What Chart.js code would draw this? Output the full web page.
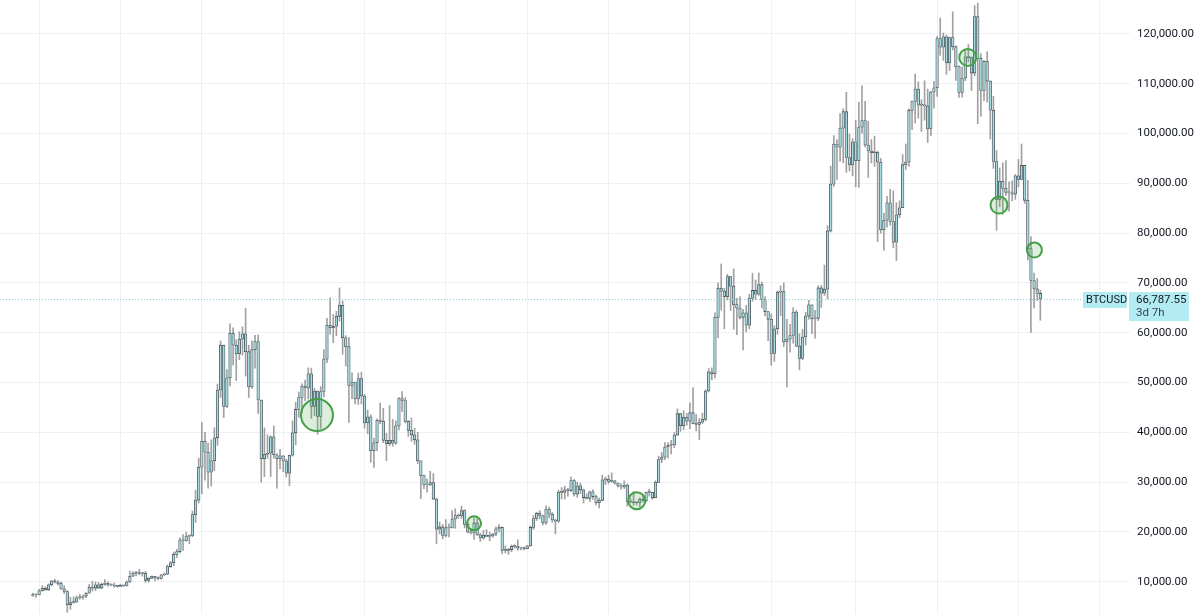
<!DOCTYPE html>
<html>
<head>
<meta charset="utf-8">
<script src="https://cdn.jsdelivr.net/npm/chart.js@4.4.1/dist/chart.umd.min.js"></script>
<style>
  html, body { margin: 0; padding: 0; background: #fff; }
  #wrap { width: 1200px; height: 614px; position: relative; }
</style>
</head>
<body>
<div id="wrap"><canvas id="myChart"></canvas></div>
<script>
// BTCUSD weekly candles, first week starts Mon 2019-12-23
// prices in thousands of USD, open of each week = previous close
const firstWeek = '2019-12-23';
const firstOpen = 7.15;

const weeklyClose = [
  7.39, 7.35, 8.18, 8.68, 8.37, 9.38, 10.17, 9.92, 9.66, 8.54,
  8.03, 5.39, 5.83, 5.88, 6.77, 6.90, 7.12, 7.70, 8.90, 8.72,
  9.38, 8.72, 9.45, 9.66, 9.34, 9.30, 9.13, 9.07, 9.25, 9.16,
  9.93, 11.10, 11.68, 11.85, 11.65, 11.70, 10.28, 10.68, 11.08, 10.77,
  10.66, 11.38, 11.50, 13.04, 13.80, 15.48, 16.05, 18.40, 18.18, 19.17,
  19.28, 23.47, 26.40, 33.00, 38.20, 36.00, 32.00, 34.30, 38.90, 48.50,
  57.50, 45.20, 50.95, 59.90, 57.50, 55.80, 58.70, 59.80, 56.20, 49.10,
  56.60, 58.25, 46.50, 34.70, 35.60, 35.80, 39.10, 35.50, 34.70, 35.30,
  34.25, 31.80, 35.40, 39.90, 44.60, 47.00, 49.30, 48.90, 51.75, 45.20,
  48.30, 43.20, 48.20, 54.70, 61.50, 61.00, 61.30, 63.30, 65.50, 59.00,
  57.20, 49.40, 50.10, 46.70, 50.80, 47.30, 41.90, 43.10, 36.30, 37.90,
  42.40, 42.20, 38.40, 37.70, 38.40, 37.80, 41.30, 46.80, 46.40, 42.20,
  40.40, 39.50, 38.50, 34.30, 31.30, 29.45, 29.45, 29.90, 26.60, 20.55,
  21.00, 19.30, 20.85, 20.80, 22.60, 23.30, 23.20, 24.30, 21.50, 20.00,
  19.80, 21.80, 19.40, 18.80, 19.30, 19.10, 19.20, 19.57, 20.63, 20.90,
  16.30, 16.30, 16.45, 17.10, 17.10, 16.75, 16.85, 16.60, 17.20, 20.90,
  22.70, 23.75, 23.30, 21.80, 24.60, 23.55, 22.40, 22.15, 28.00, 27.95,
  28.45, 28.30, 30.30, 27.60, 29.25, 28.45, 26.90, 26.75, 28.05, 27.10,
  25.85, 26.35, 30.45, 30.60, 30.15, 30.25, 29.80, 29.25, 29.05, 29.40,
  26.10, 26.00, 25.85, 25.85, 26.55, 26.25, 27.95, 27.95, 26.85, 29.95,
  34.55, 35.00, 37.05, 37.40, 37.45, 39.45, 43.75, 41.35, 43.00, 42.25,
  43.95, 41.75, 41.60, 42.05, 42.60, 48.30, 52.15, 51.75, 63.10, 68.95,
  68.35, 67.25, 71.30, 69.35, 65.65, 64.95, 63.10, 64.00, 61.50, 66.95,
  68.50, 67.75, 69.65, 66.65, 64.25, 62.70, 55.85, 60.80, 68.15, 68.25,
  58.15, 58.70, 59.45, 64.15, 57.30, 54.85, 59.15, 63.35, 65.60, 62.80,
  62.90, 69.00, 67.95, 68.75, 80.45, 89.85, 97.90, 97.25, 101.10, 104.40,
  95.20, 93.70, 98.35, 94.55, 101.30, 102.60, 97.70, 96.50, 96.15, 96.25,
  94.25, 80.70, 82.60, 86.10, 82.35, 78.20, 83.70, 85.10, 93.75, 94.30,
  104.65, 106.45, 108.95, 105.70, 105.70, 105.55, 100.95, 108.35, 109.20, 119.10,
  117.35, 119.45, 114.20, 119.30, 117.45, 113.45, 108.25, 111.15, 115.40, 115.25,
  112.15, 123.50, 115.10, 108.65, 114.50, 110.55, 104.70, 94.40, 86.80, 90.40,
  89.00, 88.20, 88.10, 87.85, 91.50, 90.80, 93.60, 86.60, 76.90, 70.50,
  68.80, 67.90, 66.79
];

const weeklyHigh = [
  7.70, 7.55, 8.46, 9.19, 8.98, 9.57, 10.20, 10.50, 10.25, 9.96,
  9.19, 8.18, 6.90, 6.99, 7.20, 7.46, 7.30, 7.76, 9.46, 10.07,
  9.95, 9.85, 9.74, 10.43, 9.99, 9.59, 9.76, 9.30, 9.47, 9.29,
  10.18, 12.12, 12.02, 12.10, 12.48, 11.80, 12.08, 10.86, 11.18, 11.05,
  10.96, 11.50, 11.72, 13.35, 14.10, 15.96, 16.48, 18.80, 19.45, 19.90,
  19.40, 24.20, 28.40, 34.80, 41.95, 40.00, 37.85, 38.50, 40.90, 49.70,
  58.35, 57.50, 52.60, 61.80, 61.00, 58.60, 60.20, 61.20, 64.90, 57.50,
  58.40, 59.50, 59.60, 46.00, 40.90, 39.50, 39.30, 41.30, 35.70, 36.60,
  35.10, 34.60, 35.40, 42.30, 46.00, 48.10, 49.75, 50.50, 52.95, 52.90,
  48.85, 48.00, 49.20, 56.60, 62.90, 67.00, 63.70, 64.30, 69.00, 66.40,
  59.40, 59.10, 51.95, 50.10, 51.90, 52.10, 47.60, 44.50, 43.50, 38.80,
  42.70, 45.85, 44.80, 39.80, 45.40, 42.60, 42.30, 47.00, 48.20, 47.00,
  42.40, 42.90, 40.80, 40.00, 34.30, 31.40, 30.60, 32.20, 31.70, 26.80,
  22.00, 21.50, 22.50, 21.60, 24.30, 24.65, 23.60, 25.20, 24.45, 21.90,
  20.60, 22.80, 22.65, 19.70, 20.30, 20.45, 19.95, 19.70, 21.00, 21.45,
  21.00, 17.20, 16.70, 17.40, 17.40, 18.40, 16.90, 16.95, 17.30, 21.20,
  23.30, 23.95, 24.25, 23.20, 25.25, 25.00, 23.90, 22.60, 28.40, 28.90,
  29.20, 28.75, 31.00, 30.50, 30.00, 29.80, 28.60, 27.65, 28.20, 28.45,
  27.40, 26.80, 31.40, 31.00, 31.40, 31.85, 30.35, 29.60, 29.70, 30.25,
  29.65, 26.80, 28.15, 26.10, 26.85, 27.45, 28.00, 28.60, 27.95, 30.30,
  35.20, 35.95, 37.95, 37.95, 38.40, 39.95, 44.70, 43.45, 44.35, 43.80,
  45.90, 49.00, 43.60, 42.80, 43.85, 48.55, 52.80, 52.95, 64.00, 70.00,
  73.80, 68.90, 71.75, 71.30, 72.80, 66.90, 67.20, 64.70, 65.50, 67.70,
  71.95, 70.60, 72.00, 70.20, 67.20, 63.80, 63.80, 61.40, 68.40, 69.40,
  70.00, 62.70, 61.70, 65.00, 64.50, 59.80, 60.65, 64.10, 66.50, 65.60,
  64.50, 69.40, 69.50, 73.60, 81.50, 93.45, 99.60, 98.80, 104.00, 105.00,
  108.30, 99.90, 99.00, 102.70, 106.30, 109.60, 106.50, 102.50, 98.80, 99.50,
  96.50, 95.00, 84.00, 87.40, 88.80, 88.50, 86.10, 86.50, 95.80, 97.90,
  104.95, 106.60, 111.95, 110.40, 106.80, 110.60, 108.95, 108.50, 110.50, 119.50,
  123.20, 120.20, 119.80, 119.40, 124.45, 117.60, 113.60, 113.40, 116.80, 117.90,
  115.40, 125.70, 126.20, 116.00, 114.70, 116.40, 110.60, 107.50, 96.60, 93.10,
  94.10, 94.60, 90.30, 90.50, 91.80, 94.80, 97.90, 93.40, 90.60, 79.30,
  72.00, 70.90, 68.50
];

const weeklyLow = [
  7.05, 6.85, 7.34, 8.10, 8.25, 8.26, 9.14, 9.73, 9.30, 8.45,
  7.63, 3.85, 4.44, 5.68, 5.86, 6.50, 6.46, 6.80, 7.68, 8.12,
  8.20, 8.64, 8.63, 9.27, 9.10, 9.19, 8.85, 8.90, 9.05, 9.07,
  9.15, 9.93, 11.00, 11.15, 11.37, 11.11, 9.90, 9.89, 10.65, 10.14,
  10.38, 10.53, 11.20, 11.40, 12.90, 13.20, 14.85, 15.80, 16.30, 18.30,
  17.60, 19.05, 21.90, 25.80, 27.70, 30.40, 28.80, 29.20, 32.30, 37.40,
  47.00, 43.00, 45.00, 49.30, 53.50, 50.40, 54.60, 55.50, 51.30, 47.00,
  48.80, 52.90, 43.80, 30.00, 31.10, 34.80, 31.10, 34.80, 28.80, 32.70,
  32.10, 31.00, 29.30, 35.20, 37.50, 43.00, 43.90, 46.35, 46.70, 42.80,
  43.35, 39.60, 40.80, 47.10, 54.00, 59.70, 58.00, 59.40, 62.30, 55.70,
  53.30, 42.00, 46.75, 45.70, 45.60, 45.70, 40.80, 39.70, 34.00, 32.95,
  36.30, 41.70, 37.90, 34.30, 37.30, 37.20, 37.60, 40.50, 44.20, 41.90,
  39.20, 38.20, 37.60, 33.70, 26.70, 28.70, 28.00, 29.30, 26.50, 17.60,
  19.60, 18.60, 19.00, 19.00, 20.80, 20.70, 22.70, 22.70, 20.80, 19.80,
  19.60, 18.50, 19.30, 18.10, 18.50, 19.00, 18.20, 18.90, 19.25, 20.00,
  15.60, 15.80, 15.50, 16.00, 16.70, 16.30, 16.40, 16.40, 16.60, 17.10,
  20.50, 22.30, 22.60, 21.40, 21.50, 22.80, 21.95, 19.60, 21.90, 26.60,
  26.60, 27.20, 28.20, 27.20, 26.95, 27.70, 25.80, 26.60, 26.10, 26.55,
  25.40, 24.80, 26.25, 29.50, 29.70, 29.95, 29.60, 29.00, 28.60, 28.70,
  25.15, 25.80, 25.35, 25.40, 24.90, 26.05, 26.00, 27.20, 26.55, 26.95,
  29.90, 33.90, 34.50, 34.80, 35.65, 36.90, 39.40, 40.20, 40.55, 41.45,
  40.75, 41.70, 40.30, 38.55, 41.80, 42.30, 48.10, 50.55, 50.90, 59.00,
  64.55, 60.80, 66.60, 64.50, 60.70, 59.60, 62.80, 56.55, 60.20, 60.80,
  66.30, 66.65, 67.50, 65.00, 63.40, 58.40, 53.50, 54.25, 59.70, 63.45,
  57.20, 49.10, 56.10, 57.90, 57.20, 52.55, 54.60, 57.50, 62.70, 59.80,
  58.90, 62.45, 65.10, 67.50, 66.80, 80.25, 89.40, 90.80, 94.40, 94.10,
  92.20, 92.50, 91.50, 89.30, 89.20, 100.10, 97.30, 91.20, 94.10, 93.40,
  78.30, 80.00, 76.60, 81.20, 81.60, 77.10, 74.50, 83.10, 85.10, 92.80,
  93.40, 100.80, 102.10, 103.10, 100.40, 102.70, 98.20, 99.60, 105.10, 107.45,
  115.70, 114.70, 111.90, 112.65, 116.80, 110.70, 107.25, 107.30, 110.60, 114.40,
  108.65, 111.60, 102.00, 103.50, 106.60, 106.30, 98.90, 93.00, 80.60, 85.30,
  83.80, 87.60, 84.40, 86.50, 86.80, 89.30, 90.90, 86.00, 74.60, 60.00,
  65.00, 66.50, 62.50
];

// green circle markers: week index, price, radius
const markWeek = [90.8, 141, 193, 298.8, 308.8, 320.1];
const markPrice = [43470, 21730, 26270, 115300, 85640, 76610];
const markSize = [16, 7, 8.5, 8.5, 8.5, 7.5];

// axis
const priceTicks = [10000, 20000, 30000, 40000, 50000, 60000, 70000, 80000, 90000, 100000, 110000, 120000];
const halfYears = ['2020-01-01', '2020-07-01', '2021-01-01', '2021-07-01', '2022-01-01', '2022-07-01',
  '2023-01-01', '2023-07-01', '2024-01-01', '2024-07-01', '2025-01-01', '2025-07-01', '2026-01-01', '2026-07-01'];

const symbol = 'BTCUSD';
const lastPrice = 66787.55;
const countdown = '3d 7h';

const WEEK = 7 * 24 * 3600 * 1000;
const t0 = Date.parse(firstWeek);

// first weekly bar at or after each half year start
const gridWeeks = halfYears.map(function (d) {
  return Math.ceil((Date.parse(d) - t0) / WEEK);
});

const bodies = [];
const wicks = [];
weeklyClose.forEach(function (c, i) {
  const o = i === 0 ? firstOpen : weeklyClose[i - 1];
  const hi = Math.max(weeklyHigh[i], o, c);
  const lo = Math.min(weeklyLow[i], o, c);
  bodies.push({ x: i, y: [o * 1000, c * 1000] });
  wicks.push({ x: i, y: [lo * 1000, hi * 1000] });
});

const marks = markWeek.map(function (w, i) {
  return { x: w, y: markPrice[i], r: markSize[i] };
});

function fmt(v) {
  return v.toLocaleString('en-US', { minimumFractionDigits: 2, maximumFractionDigits: 2 });
}

// dotted last price line + symbol / price tags
const priceTag = {
  id: 'priceTag',
  afterDraw: function (chart) {
    const ctx = chart.ctx;
    const area = chart.chartArea;
    const py = Math.round(chart.scales.y.getPixelForValue(lastPrice)) + 0.5;
    ctx.save();
    ctx.strokeStyle = '#7fd3de';
    ctx.lineWidth = 1;
    ctx.setLineDash([1, 2]);
    ctx.beginPath();
    ctx.moveTo(0, py);
    ctx.lineTo(area.right - 47, py);
    ctx.stroke();
    ctx.setLineDash([]);

    ctx.fillStyle = '#b2ebf2';
    ctx.fillRect(area.right - 47, py - 7.5, 44, 16);
    ctx.fillRect(area.right - 1, py - 7.5, 60, 29);

    ctx.fillStyle = '#131722';
    ctx.font = '11px Roboto';
    ctx.textBaseline = 'middle';
    ctx.textAlign = 'left';
    ctx.fillText(symbol, area.right - 44, py + 0.5);
    ctx.font = '11.5px Roboto';
    ctx.fillText(fmt(lastPrice), area.right + 6, py + 0.5);
    ctx.fillStyle = '#3a3f4b';
    ctx.fillText(countdown, area.right + 6, py + 13.5);
    ctx.restore();
  }
};

const ctx = document.getElementById('myChart').getContext('2d');

// eslint-disable-next-line
const chart = new Chart(ctx, {
  type: 'bar',
  data: {
    datasets: [
      {
        type: 'bubble',
        data: marks,
        backgroundColor: 'rgba(76, 175, 80, 0.2)',
        borderColor: '#43a047',
        borderWidth: 2,
        clip: false,
        order: 1,
      },
      {
        data: bodies,
        backgroundColor: '#a3dbe1',
        borderColor: '#4f5358',
        borderWidth: 0.8,
        borderSkipped: false,
        barThickness: 2.6,
        minBarLength: 1,
        grouped: false,
        order: 2,
      },
      {
        data: wicks,
        backgroundColor: 'rgba(130, 130, 130, 0.75)',
        barThickness: 1,
        grouped: false,
        order: 3,
      },
    ],
  },
  options: {
    responsive: true,
    maintainAspectRatio: false,
    animation: false,
    layout: { padding: 0, autoPadding: false },
    plugins: {
      legend: { display: false },
      tooltip: { enabled: false },
    },
    scales: {
      x: {
        type: 'linear',
        offset: false,
        min: -10.51,
        max: 350.66,
        afterBuildTicks: function (scale) {
          scale.ticks = gridWeeks.map(function (v) { return { value: v }; });
        },
        afterFit: function (scale) {
          scale.height = 0;
        },
        ticks: { display: false },
        grid: { color: '#eef0f3', drawTicks: false, offset: false },
        border: { display: false },
      },
      y: {
        position: 'right',
        min: 3514,
        max: 126827,
        afterBuildTicks: function (scale) {
          scale.ticks = priceTicks.map(function (v) { return { value: v }; });
        },
        afterFit: function (scale) {
          scale.width = 70;
          scale.paddingTop = 0;
          scale.paddingBottom = 0;
        },
        ticks: {
          padding: 7,
          color: '#131722',
          font: { family: 'Roboto', size: 11.5 },
          callback: function (v) { return fmt(v); },
        },
        grid: { color: '#eef0f3', drawTicks: false },
        border: { display: false },
      },
    },
  },
  plugins: [priceTag],
});
</script>
</body>
</html>
